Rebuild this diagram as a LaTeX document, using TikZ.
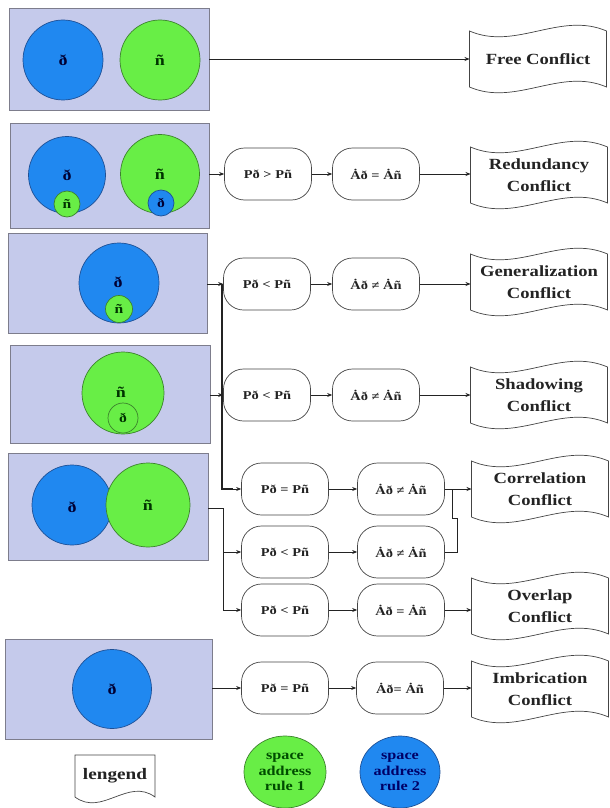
\documentclass[tikz,border=0pt]{standalone}
\usepackage{fontspec}
\setmainfont{Liberation Serif}[FakeStretch=1.2]
\usetikzlibrary{shapes.geometric,arrows.meta}

\definecolor{lav}{RGB}{197,202,235}
\definecolor{lavline}{RGB}{125,125,140}
\definecolor{sblue}{RGB}{32,136,240}
\definecolor{sblueline}{RGB}{30,80,150}
\definecolor{sgreen}{RGB}{104,238,70}
\definecolor{sgreenline}{RGB}{60,130,45}
\definecolor{ink}{RGB}{35,35,35}

\pgfdeclarelayer{bg}
\pgfsetlayers{bg,main}

\tikzset{
  panel/.style={draw=lavline, fill=lav, line width=0.8pt, inner sep=0pt, outer sep=0pt},
  setlabel/.style={inner sep=0pt, font=\bfseries\fontsize{15}{16}\selectfont},
  bset/.style={circle, draw=sblueline, fill=sblue, line width=0.7pt, setlabel, text=black!80!blue},
  gset/.style={circle, draw=sgreenline, fill=sgreen, line width=0.7pt, setlabel, text=black!80!green},
  rulebox/.style={draw=ink!85, fill=white, rounded corners=20pt, minimum width=87pt,
    minimum height=52pt, line width=0.7pt, inner sep=0pt,
    font=\bfseries\fontsize{12}{13}\selectfont, text=ink},
  conf/.style={rectangle, minimum width=137pt, minimum height=56pt, align=center,
    inner sep=0pt, outer sep=0pt, font=\bfseries\fontsize{15.5}{22}\selectfont, text=ink},
  docline/.style={draw=ink!85, fill=white, line width=0.7pt},
  legtxt/.style={align=center, inner sep=0pt, font=\bfseries\fontsize{13.5}{15.5}\selectfont},
  link/.style={draw=ink, line width=0.7pt},
  arr/.style={link, -{Stealth[length=5pt,width=4pt]}},
}

% outline with a wavy top and bottom (tape), drawn behind the named node
\newcommand\tapeoutline[2]{%
  \begin{pgfonlayer}{bg}
  \draw[docline] (#1.north west) .. controls +(#2,20) and +(-#2,-20) .. (#1.north east)
    -- (#1.south east) .. controls +(-#2,-20) and +(#2,20) .. (#1.south west) -- cycle;
  \end{pgfonlayer}}
% outline with a flat top and a wavy bottom (document)
\newcommand\docoutline[2]{%
  \begin{pgfonlayer}{bg}
  \draw[docline] (#1.north west) -- (#1.north east)
    -- (#1.south east) .. controls +(-#2,-20) and +(#2,20) .. (#1.south west) -- cycle;
  \end{pgfonlayer}}

\begin{document}
\begin{tikzpicture}[x=1pt, y=-1pt]
\useasboundingbox (0,0) rectangle (610,808);

% ---- set panels ----
\node[panel, minimum width=200pt, minimum height=102pt] (box1) at (109,59) {};
\node[panel, minimum width=199pt, minimum height=105pt] (box2) at (109.5,175.5) {};
\node[panel, minimum width=199pt, minimum height=100pt] (box3) at (107.5,283) {};
\node[panel, minimum width=200pt, minimum height=98pt]  (box4) at (110,394) {};
\node[panel, minimum width=200pt, minimum height=107pt] (box5) at (108,506.5) {};
\node[panel, minimum width=207pt, minimum height=100pt] (box6) at (108.5,689) {};

% disjoint
\node[bset, minimum size=80pt] (b1) at (63,60) {ð};
\node[gset, minimum size=80pt] (g1) at (160,60) {ñ};
% one contains the other
\node[bset, minimum size=77pt] (b2) at (67,175) {ð};
\node[gset, minimum size=26pt, font=\bfseries\fontsize{13}{14}\selectfont] (g2s) at (67,204) {ñ};
\node[gset, minimum size=79pt] (g2) at (160,174) {ñ};
\node[bset, minimum size=26pt, font=\bfseries\fontsize{13}{14}\selectfont] (b2s) at (161,203) {ð};
% ð covers ñ
\node[bset, minimum size=80pt] (b3) at (119,283) {};
\node[setlabel, text=black!80!blue] (l3) at (118,282) {ð};
\node[gset, minimum size=27pt, font=\bfseries\fontsize{13}{14}\selectfont] (g3s) at (119,309) {ñ};
% ñ covers ð
\node[gset, minimum size=82pt] (g4) at (123,393) {};
\node[setlabel, text=black!80!green] (l4) at (121,392) {ñ};
\node[gset, minimum size=30pt, font=\bfseries\fontsize{13}{14}\selectfont] (g4s) at (123,418) {ð};
% overlapping
\node[bset, minimum size=80pt] (b5) at (72,505) {};
\node[gset, minimum size=84pt] (g5) at (148,505) {ñ};
\node[setlabel, text=black!80!blue] (l5) at (72,507) {ð};
% single set
\node[bset, minimum size=79pt] (b6) at (112,689) {ð};

% ---- rule checks ----
\node[rulebox] (p2) at (268,174) {Pð > Pñ};
\node[rulebox] (a2) at (376,174) {Ȧð = Ȧñ};
\node[rulebox] (p3) at (267,284) {Pð < Pñ};
\node[rulebox] (a3) at (376,284) {Ȧð ≠ Ȧñ};
\node[rulebox] (p4) at (267,395) {Pð < Pñ};
\node[rulebox] (a4) at (376,395) {Ȧð ≠ Ȧñ};
\node[rulebox] (p5) at (285,489) {Pð = Pñ};
\node[rulebox] (a5) at (401,489) {Ȧð ≠ Ȧñ};
\node[rulebox] (p6) at (285,552) {Pð < Pñ};
\node[rulebox] (a6) at (401,552) {Ȧð ≠ Ȧñ};
\node[rulebox] (p7) at (285,610) {Pð < Pñ};
\node[rulebox] (a7) at (401,610) {Ȧð = Ȧñ};
\node[rulebox] (p8) at (285,688) {Pð = Pñ};
\node[rulebox] (a8) at (400,688) {Ȧð= Ȧñ};

% ---- conflict kinds ----
\node[conf] (free) at (538,59)  {Free Conflict};
\node[conf] (red)  at (539,175) {Redundancy\\Conflict};
\node[conf] (gen)  at (539,282) {Generalization\\Conflict};
\node[conf] (sha)  at (539,395) {Shadowing\\Conflict};
\node[conf] (cor)  at (540,489) {Correlation\\Conflict};
\node[conf] (ove)  at (540,606) {Overlap\\Conflict};
\node[conf] (imb)  at (540,689) {Imbrication\\Conflict};
\tapeoutline{free}{46}
\tapeoutline{red}{46}
\tapeoutline{gen}{46}
\tapeoutline{sha}{46}
\tapeoutline{cor}{46}
\tapeoutline{ove}{46}
\tapeoutline{imb}{46}

% ---- legend ----
\node[rectangle, minimum width=80pt, minimum height=42pt, inner sep=0pt, outer sep=0pt,
  font=\bfseries\fontsize{16}{17}\selectfont, text=ink] (leg) at (115,776) {lengend};
\docoutline{leg}{27}
\node[ellipse, draw=sgreenline, fill=sgreen, line width=0.7pt, minimum width=82pt,
  minimum height=72pt, legtxt, text=black!70!green] (r1) at (285,772) {space\\address\\rule 1};
\node[ellipse, draw=sblueline, fill=sblue, line width=0.7pt, minimum width=80pt,
  minimum height=72pt, legtxt, text=black!60!blue] (r2) at (400,772) {space\\address\\rule 2};

% ---- connectors ----
\draw[arr] (box1.east |- free.west) -- (free.west);

\draw[arr] (box2.east |- p2.west) -- (p2.west);
\draw[arr] (p2) -- (a2);
\draw[arr] (a2) -- (red.west |- a2);

\coordinate (j1) at (222,284);
\draw[arr] (box3.east |- p3.west) -- (p3.west);
\draw[arr] (p3) -- (a3);
\draw[arr] (a3) -- (gen.west |- a3);
\draw[link, line width=1.3pt] (j1) |- ([xshift=-8pt]p5.west);
\draw[arr] ([xshift=-9pt]p5.west) -- (p5.west);

\draw[arr] (box4.east |- p4.west) -- (p4.west);
\draw[arr] (p4) -- (a4);
\draw[arr] (a4) -- (sha.west |- a4);

\coordinate (j2) at (223,508);
\draw[link] (box5.east |- j2) -- (j2) -- (j2 |- p7);
\draw[arr] (j2) |- (p6.west);
\draw[arr] (j2) |- (p7.west);

\draw[arr] (p5) -- (a5);
\draw[arr] (a5) -- (cor.west |- a5);
\draw[arr] (p6) -- (a6);
\coordinate (m1) at (457,518);
\coordinate (m2) at (452,518);
\draw[link] (a6.east) -| (m1) -- (m2) -- (m2 |- a5);

\draw[arr] (p7) -- (a7);
\draw[arr] (a7) -- (ove.west |- a7);

\draw[arr] (box6.east |- p8.west) -- (p8.west);
\draw[arr] (p8) -- (a8);
\draw[arr] (a8) -- (imb.west |- a8);
\end{tikzpicture}
\end{document}
